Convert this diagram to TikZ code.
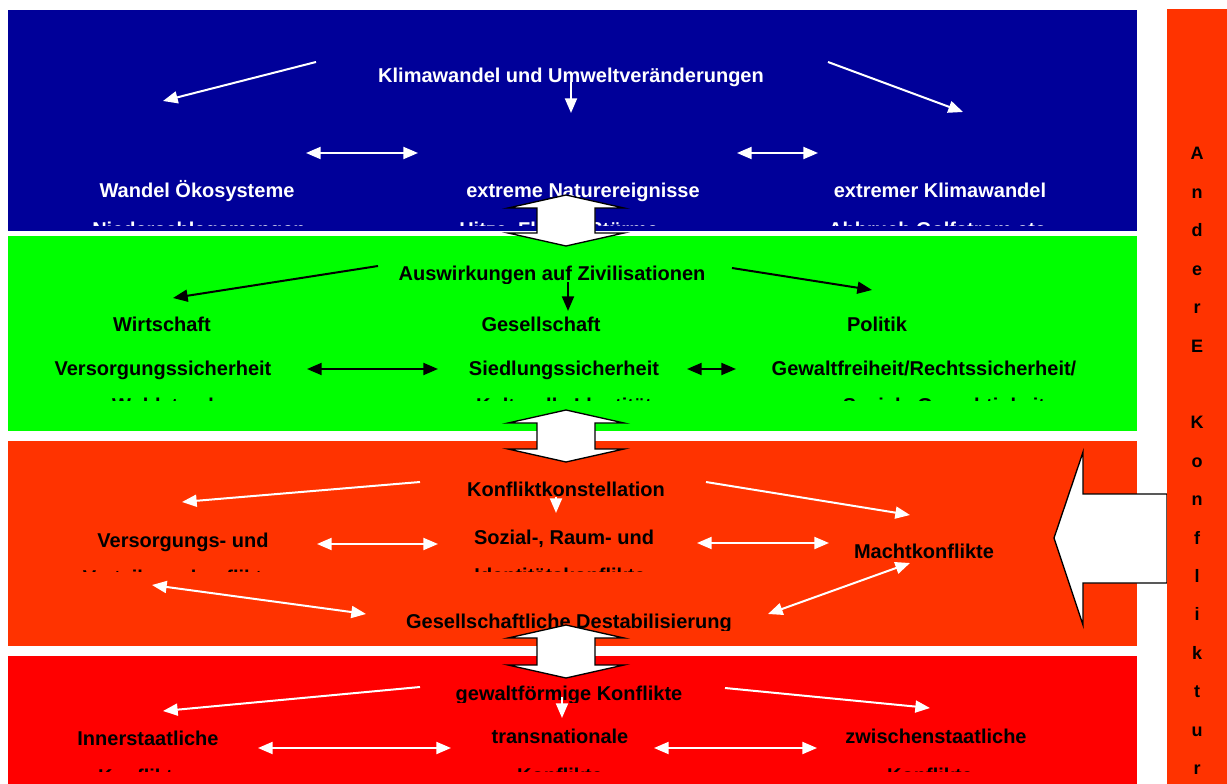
\documentclass[tikz,border=0pt]{standalone}
\usepackage{fontspec}
\setmainfont{Liberation Sans}
\usetikzlibrary{arrows.meta}
\definecolor{bandblue}{RGB}{0,0,153}
\definecolor{bandgreen}{RGB}{0,255,0}
\definecolor{bandorange}{RGB}{255,51,0}
\definecolor{bandred}{RGB}{255,0,0}
\begin{document}
\begin{tikzpicture}[x=0.75pt,y=-0.75pt,
  lbl/.style={font=\fontsize{15}{18}\selectfont\bfseries, inner sep=0pt, anchor=base},
  wl/.style={lbl,text=white},
  bl/.style={lbl,text=black},
  letter/.style={font=\fontsize{13.5}{16}\selectfont\bfseries, inner sep=0pt, anchor=base, text=black},
  tip/.tip={Triangle[length=11pt,width=9pt]},
  wa/.style={draw=white, line width=1.5pt, -tip},
  wd/.style={draw=white, line width=1.5pt, tip-tip},
  ba/.style={draw=black, line width=1.5pt, -tip},
  bd/.style={draw=black, line width=1.5pt, tip-tip},
  blockarrow/.style={fill=white, draw=black, line width=1pt, line join=miter}
]
\useasboundingbox (0,0) rectangle (1227,784);
\fill[white] (0,0) rectangle (1227,784);

% bands
\fill[bandblue]   (8,10)  rectangle (1137,231);
\fill[bandgreen]  (8,236) rectangle (1137,431);
\fill[bandorange] (8,441) rectangle (1137,646);
\fill[bandred]    (8,656) rectangle (1137,784);

% ---------------- blue band texts
\node[wl] (klima) at (571,83) {Klimawandel und Umweltveränderungen};
\node[wl] (oeko) at (197,198) {Wandel Ökosysteme};
\node[wl] (natur) at (583,198) {extreme Naturereignisse};
\node[wl] (extrem) at (940,198) {extremer Klimawandel};
\begin{scope}
  \clip (0,0) rectangle (1227,226);
  \node[wl,anchor=base west] (oeko2) at (92,237) {Niederschlagsmengen};
  \node[wl,anchor=base west] (natur2) at (459,237) {Hitze, Fluten, Stürme};
  \node[wl,anchor=base west] (extrem2) at (828,237) {Abbruch Golfstrom etc.};
\end{scope}

% ---------------- green band texts
\begin{scope}
  \clip (0,0) rectangle (1227,283);
  \node[bl] (ausw) at (552,280) {Auswirkungen auf Zivilisationen};
\end{scope}
\begin{scope}
  \clip (0,0) rectangle (1227,333);
  \node[bl] (wirt) at (162,331) {Wirtschaft};
  \node[bl] (ges) at (541,331) {Gesellschaft};
  \node[bl] (pol) at (877,331) {Politik};
\end{scope}
\node[bl] (vers) at (163,375) {Versorgungssicherheit};
\node[bl] (sied) at (564,375) {Siedlungssicherheit};
\node[bl] (gewf) at (924,375) {Gewaltfreiheit/Rechtssicherheit/};
\begin{scope}
  \clip (0,0) rectangle (1227,400);
  \node[bl] (wohl) at (163,412) {Wohlstand};
  \node[bl] (kult) at (564,412) {Kulturelle Identität};
  \node[bl] (sozg) at (944,412) {Soziale Gerechtigkeit};
\end{scope}

% ---------------- orange band texts
\begin{scope}
  \clip (0,0) rectangle (1227,497);
  \node[bl] (konst) at (566,496) {Konfliktkonstellation};
\end{scope}
\node[bl] (versk) at (183,547) {Versorgungs- und};
\node[bl] (sozr) at (564,544) {Sozial-, Raum- und};
\node[bl] (macht) at (924,558) {Machtkonflikte};
\begin{scope}
  \clip (0,0) rectangle (1227,571);
  \node[bl] (versk2) at (178,584) {Verteilungskonflikte};
  \node[bl] (sozr2) at (560,582) {Identitätskonflikte};
\end{scope}
\begin{scope}
  \clip (0,0) rectangle (1227,630);
  \node[bl] (destab) at (569,628) {Gesellschaftliche Destabilisierung};
\end{scope}

% ---------------- red band texts
\begin{scope}
  \clip (0,0) rectangle (1227,702);
  \node[bl] (gewk) at (569,700) {gewaltförmige Konflikte};
\end{scope}
\node[bl] (inner) at (148,745) {Innerstaatliche};
\node[bl] (trans) at (560,743) {transnationale};
\node[bl] (zwis) at (936,743) {zwischenstaatliche};
\begin{scope}
  \clip (0,0) rectangle (1227,771);
  \node[bl] (inner2) at (141,783) {Konflikte};
  \node[bl] (trans2) at (560,782) {Konflikte};
  \node[bl] (zwis2) at (930,782) {Konflikte};
\end{scope}

% ---------------- arrow end points
\coordinate (b1s) at (316,62);  \coordinate (b1e) at (163,101);
\coordinate (b2s) at (571,82);  \coordinate (b2e) at (571,113);
\coordinate (b3s) at (828,62);  \coordinate (b3e) at (963,112);
\coordinate (b4s) at (306,153); \coordinate (b4e) at (418,153);
\coordinate (b5s) at (737,153); \coordinate (b5e) at (818,153);

\coordinate (g1s) at (378,266); \coordinate (g1e) at (173,298);
\coordinate (g2s) at (568,282); \coordinate (g2e) at (568,311);
\coordinate (g3s) at (732,268); \coordinate (g3e) at (872,290);
\coordinate (g4s) at (307,369); \coordinate (g4e) at (438,369);
\coordinate (g5s) at (687,369); \coordinate (g5e) at (736,369);

\coordinate (o1s) at (420,482); \coordinate (o1e) at (182,502);
\coordinate (o2s) at (556,497); \coordinate (o2e) at (556,513);
\coordinate (o3s) at (706,482); \coordinate (o3e) at (910,515);
\coordinate (o4s) at (317,544); \coordinate (o4e) at (438,544);
\coordinate (o5s) at (697,543); \coordinate (o5e) at (829,543);
\coordinate (o6s) at (152,585); \coordinate (o6e) at (366,614);
\coordinate (o7s) at (768,614); \coordinate (o7e) at (910,563);

\coordinate (r1s) at (420,687); \coordinate (r1e) at (163,711);
\coordinate (r2s) at (562,697); \coordinate (r2e) at (562,718);
\coordinate (r3s) at (725,688); \coordinate (r3e) at (930,708);
\coordinate (r4s) at (258,748); \coordinate (r4e) at (451,748);
\coordinate (r5s) at (654,748); \coordinate (r5e) at (817,748);

% ---------------- connectors
\draw[wa] (b1s) -- (b1e);
\draw[wa] (b2s) -- (b2e);
\draw[wa] (b3s) -- (b3e);
\draw[wd] (b4s) -- (b4e);
\draw[wd] (b5s) -- (b5e);

\draw[ba] (g1s) -- (g1e);
\draw[ba] (g2s) -- (g2e);
\draw[ba] (g3s) -- (g3e);
\draw[bd] (g4s) -- (g4e);
\draw[bd] (g5s) -- (g5e);

\draw[wa] (o1s) -- (o1e);
\draw[wa] (o2s) -- (o2e);
\draw[wa] (o3s) -- (o3e);
\draw[wd] (o4s) -- (o4e);
\draw[wd] (o5s) -- (o5e);
\draw[wd] (o6s) -- (o6e);
\draw[wd] (o7s) -- (o7e);

\draw[wa] (r1s) -- (r1e);
\draw[wa] (r2s) -- (r2e);
\draw[wa] (r3s) -- (r3e);
\draw[wd] (r4s) -- (r4e);
\draw[wd] (r5s) -- (r5e);

% ---------------- vertical block double arrows
\foreach \t/\b in {195/246, 410/462, 625/678}{
  \draw[blockarrow] (566,\t) -- (624,\t+13) -- (595,\t+13) -- (595,\b-13) -- (624,\b-13)
    -- (566,\b) -- (508,\b-13) -- (537,\b-13) -- (537,\t+13) -- (508,\t+13) -- cycle;
}

% ---------------- big left arrow
\draw[blockarrow] (1167,494) -- (1083,494) -- (1083,452) -- (1054,538) -- (1083,625)
  -- (1083,583) -- (1167,583) -- cycle;

% ---------------- right bar
\fill[bandorange] (1167,9) rectangle (1227,784);
\foreach \ch [count=\i from 0] in {A,n,d,e,r,E,{},K,o,n,f,l,i,k,t,u,r}{
  \node[letter] (bar\i) at (1197,{160+\i*38.4}) {\ch};
}
\end{tikzpicture}
\end{document}
